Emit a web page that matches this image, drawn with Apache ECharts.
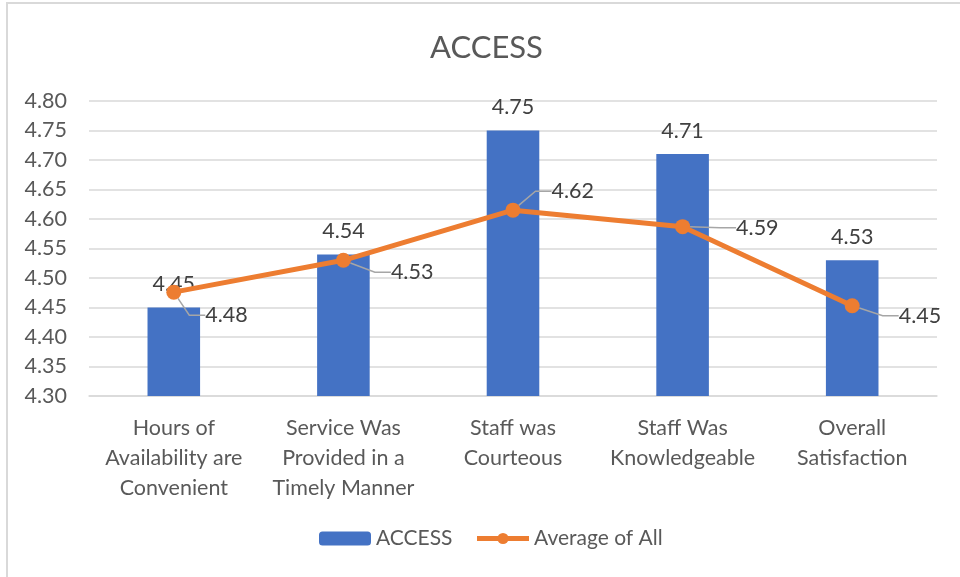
<!DOCTYPE html>
<html>
<head>
<meta charset="utf-8">
<script src="https://cdn.jsdelivr.net/npm/echarts@6/dist/echarts.min.js"></script>
<style>
  html, body { margin: 0; padding: 0; background: #fff; overflow: hidden; }
  #frame {
    position: absolute; left: 6px; top: 2px;
    width: 1000px; height: 700px;
    border-left: 2px solid #d9d9d9; border-top: 2px solid #d9d9d9;
  }
  #main { position: absolute; left: 0; top: 0; width: 960px; height: 577px; }
</style>
</head>
<body>
<div id="frame"></div>
<div id="main"></div>
<script>
// categories and values
const categories = [
  'Hours of\nAvailability are\nConvenient',
  'Service Was\nProvided in a\nTimely Manner',
  'Staff was\nCourteous',
  'Staff Was\nKnowledgeable',
  'Overall\nSatisfaction'
];
const accessValues = [4.45, 4.54, 4.75, 4.71, 4.53];
const averageValues = [4.476, 4.53, 4.615, 4.587, 4.453];

// where each line label sits relative to its point (pixels)
const lineLabelShift = [
  [20, 23], [36, 12], [27, -19], [42, 1], [35, 10]
];

const font = 'Lato, "Open Sans", sans-serif';
const grey = '#595959';

let myChart = echarts.init(document.getElementById('main'));
let option = {
  animation: false,
  title: {
    text: 'ACCESS',
    left: 425,
    top: 27,
    textStyle: { fontSize: 31, color: grey, fontWeight: 'normal', fontFamily: font }
  },
  legend: {
    bottom: 23,
    left: 314,
    itemWidth: 52,
    itemHeight: 14,
    itemGap: 22,
    textStyle: { fontSize: 21, color: grey, fontFamily: font },
    lineStyle: { width: 5 },
    data: ['ACCESS', 'Average of All']
  },
  grid: { left: 89, right: 23, top: 101, bottom: 181 },
  xAxis: {
    type: 'category',
    data: categories,
    axisLine: { show: true, lineStyle: { color: '#d9d9d9', width: 1.5 } },
    axisTick: { show: false },
    axisLabel: {
      color: grey, fontSize: 21.5, fontFamily: font,
      lineHeight: 30, margin: 17, interval: 0
    }
  },
  yAxis: {
    type: 'value',
    min: 4.3,
    max: 4.8,
    interval: 0.05,
    axisLine: { show: false },
    axisTick: { show: false },
    splitLine: { lineStyle: { color: '#d9d9d9', width: 1.5 } },
    axisLabel: {
      color: grey, fontSize: 21.5, fontFamily: font, margin: 22,
      formatter: v => v.toFixed(2)
    }
  },
  series: [
    {
      name: 'ACCESS',
      type: 'bar',
      barWidth: '31%',
      itemStyle: { color: '#4472C4' },
      label: {
        show: true, position: 'top', distance: 12,
        color: '#404040', fontSize: 21.5, fontFamily: font,
        formatter: p => p.value.toFixed(2)
      },
      data: accessValues
    },
    {
      name: 'Average of All',
      type: 'line',
      symbol: 'circle',
      symbolSize: 15,
      lineStyle: { color: '#ED7D31', width: 5 },
      itemStyle: { color: '#ED7D31' },
      label: {
        show: true, position: 'right', distance: 4,
        color: '#404040', fontSize: 21.5, fontFamily: font,
        formatter: p => p.value.toFixed(2)
      },
      labelLine: { show: true, length2: 16, lineStyle: { color: '#a6a6a6', width: 1.5 } },
      labelLayout: p => ({
        dx: lineLabelShift[p.dataIndex][0],
        dy: lineLabelShift[p.dataIndex][1]
      }),
      data: averageValues,
      z: 3
    }
  ]
};
myChart.setOption(option);
</script>
</body>
</html>
